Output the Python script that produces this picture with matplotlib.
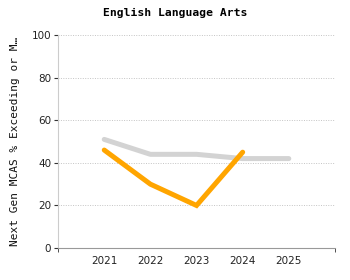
import matplotlib
matplotlib.use("Agg")
import matplotlib.pyplot as plt

years = ["2021", "2022", "2023", "2024", "2025"]
state_vals = [51, 44, 44, 42, 42]
school_vals = [46, 30, 20, 45]
yticks = [0, 20, 40, 60, 80, 100]

fig = plt.figure(figsize=(3.5, 2.8), dpi=100)
ax = fig.add_axes([0.166, 0.114, 0.791, 0.761])

pos = list(range(1, len(years) + 1))
ax.plot(pos, state_vals, color="#d3d3d3", lw=3.6, solid_capstyle="round", zorder=2)
ax.plot(pos[:len(school_vals)], school_vals, color="#ffa500", lw=3.6,
        solid_capstyle="round", solid_joinstyle="miter", zorder=3)

ax.set_xlim(0, 6)
ax.set_ylim(0, 100)
ax.set_xticks(pos)
ax.set_xticklabels(years, fontsize=7.5, color="#222222")
ax.tick_params(axis="x", length=0, pad=6)
ax.set_xticks([0, 6], minor=True)
ax.tick_params(axis="x", which="minor", length=3, color="#333333")
ax.set_yticks(yticks)
ax.set_yticklabels([str(v) for v in yticks], fontsize=7.5, color="#222222")
ax.tick_params(axis="y", length=3, color="#333333", pad=2)

ax.grid(axis="y", linestyle=(0, (1, 1.5)), color="#c4c4c4", lw=0.7)
ax.set_axisbelow(True)
for s in ["top", "right"]:
    ax.spines[s].set_visible(False)
ax.spines["left"].set_color("#cccccc")
ax.spines["bottom"].set_color("#999999")

ax.set_ylabel("Next Gen MCAS % Exceeding or M\u2026", fontsize=8,
              family="DejaVu Sans Mono", labelpad=8, color="#111111")
fig.text(0.5, 0.955, "English Language Arts", ha="center", va="center",
         fontsize=8.2, fontweight="bold", family="DejaVu Sans Mono")

fig.savefig("out.png", dpi=100)
